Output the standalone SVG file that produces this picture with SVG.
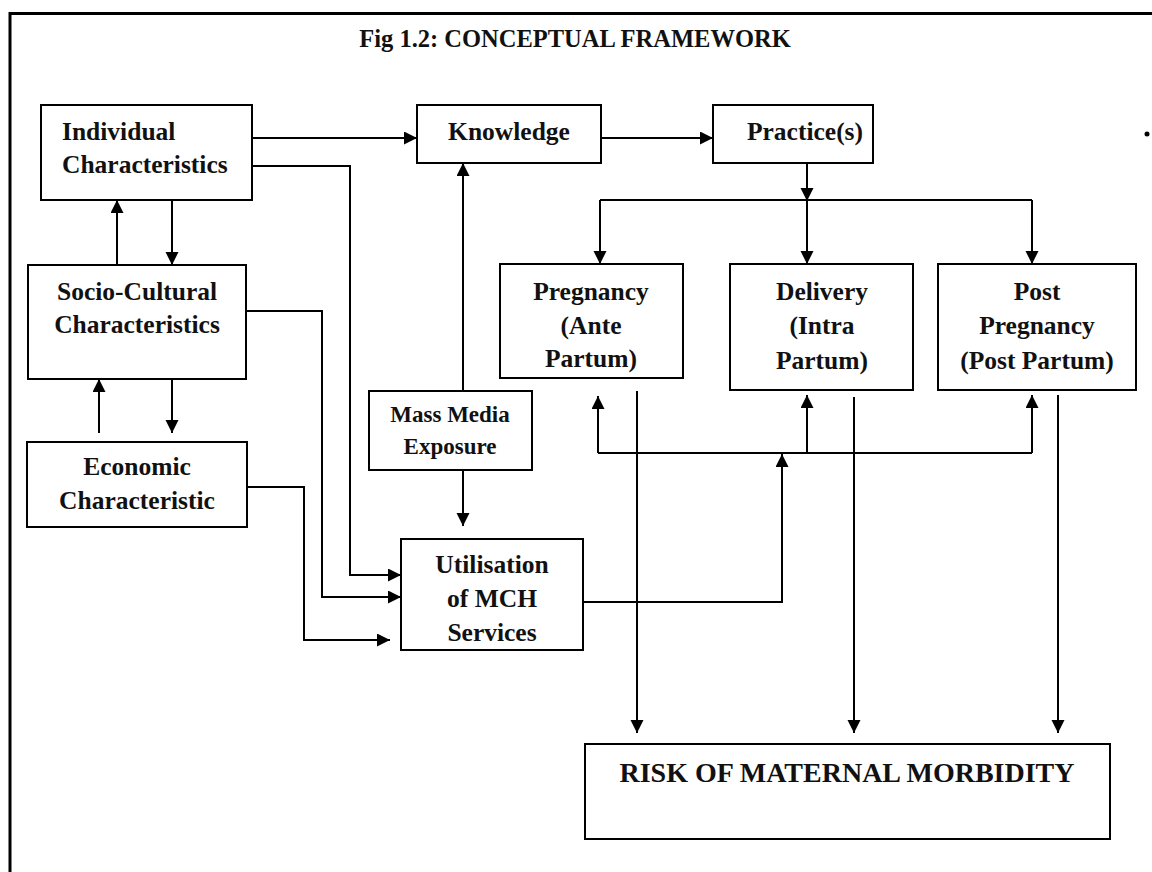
<svg xmlns="http://www.w3.org/2000/svg" width="1152" height="872" viewBox="0 0 1152 872">
  <style>
    .box { fill: #fff; stroke: #000; stroke-width: 2; }
    .line { fill: none; stroke: #000; stroke-width: 2; }
    .arrow { fill: none; stroke: #000; stroke-width: 2; marker-end: url(#head); }
    text { font-family: "Liberation Serif", "Times New Roman", serif; font-weight: bold; fill: #111; }
    .lbl { font-size: 25.5px; text-anchor: middle; }
    .sm { font-size: 23px; text-anchor: middle; }
    .title { font-size: 24.5px; text-anchor: middle; }
    .big { font-size: 28px; text-anchor: middle; }
  </style>
  <defs>
    <marker id="head" markerUnits="userSpaceOnUse" markerWidth="14" markerHeight="14" refX="13" refY="6.5" orient="auto">
      <path d="M0,0 L13,6.5 L0,13 z" fill="#000"/>
    </marker>
  </defs>

  <rect width="1152" height="872" fill="#fff"/>

  <!-- page frame -->
  <path d="M10,872 V13.5 H1152" fill="none" stroke="#000" stroke-width="3"/>
  <circle cx="1147" cy="134" r="2.5" fill="#000"/>

  <text class="title" x="575" y="47">Fig 1.2: CONCEPTUAL FRAMEWORK</text>

  <!-- connectors -->
  <g id="connectors">
    <!-- individual -> knowledge -> practice -->
    <path class="arrow" d="M252,138 H417"/>
    <path class="arrow" d="M602,138 H713"/>
    <!-- individual <-> socio-cultural -->
    <path class="arrow" d="M117,265 V200"/>
    <path class="arrow" d="M172,200 V265"/>
    <!-- socio-cultural <-> economic -->
    <path class="arrow" d="M99,433 V379"/>
    <path class="arrow" d="M172,379 V433"/>
    <!-- characteristics -> utilisation -->
    <path class="arrow" d="M252,166 H350 V575 H401"/>
    <path class="arrow" d="M246,311 H322 V597 H401"/>
    <path class="arrow" d="M247,487 H304 V640 H390"/>
    <!-- mass media -->
    <path class="arrow" d="M463,391 V163"/>
    <path class="arrow" d="M463,470 V526"/>
    <!-- practice -> phases -->
    <path class="arrow" d="M807,163 V201"/>
    <path class="line" d="M600,200 H1032"/>
    <path class="arrow" d="M600,200 V264"/>
    <path class="arrow" d="M807,200 V264"/>
    <path class="arrow" d="M1032,200 V264"/>
    <!-- utilisation -> phases -->
    <path class="arrow" d="M584,602 H782 V454"/>
    <path class="line" d="M598,453 H1032"/>
    <path class="arrow" d="M598,453 V396"/>
    <path class="arrow" d="M807,453 V395"/>
    <path class="arrow" d="M1032,453 V395"/>
    <!-- phases -> risk -->
    <path class="arrow" d="M637,391 V733"/>
    <path class="arrow" d="M854,397 V733"/>
    <path class="arrow" d="M1058,395 V733"/>
  </g>

  <g id="individual">
    <rect class="box" x="41" y="105" width="211" height="95"/>
    <text class="lbl" x="62" y="140" style="text-anchor:start">Individual</text>
    <text class="lbl" x="62" y="173" style="text-anchor:start">Characteristics</text>
  </g>

  <g id="socio-cultural">
    <rect class="box" x="28" y="265" width="218" height="114"/>
    <text class="lbl" x="137" y="300">Socio-Cultural</text>
    <text class="lbl" x="137" y="333">Characteristics</text>
  </g>

  <g id="economic">
    <rect class="box" x="27" y="442" width="220" height="85"/>
    <text class="lbl" x="137" y="475">Economic</text>
    <text class="lbl" x="137" y="509">Characteristic</text>
  </g>

  <g id="knowledge">
    <rect class="box" x="417" y="105" width="184" height="58"/>
    <text class="lbl" x="509" y="140">Knowledge</text>
  </g>

  <g id="practice">
    <rect class="box" x="713" y="105" width="160" height="58"/>
    <text class="lbl" x="805" y="140">Practice(s)</text>
  </g>

  <g id="pregnancy">
    <rect class="box" x="500" y="264" width="183" height="114"/>
    <text class="lbl" x="591" y="300">Pregnancy</text>
    <text class="lbl" x="591" y="334">(Ante</text>
    <text class="lbl" x="591" y="367">Partum)</text>
  </g>

  <g id="delivery">
    <rect class="box" x="730" y="264" width="183" height="126"/>
    <text class="lbl" x="822" y="300">Delivery</text>
    <text class="lbl" x="822" y="334">(Intra</text>
    <text class="lbl" x="822" y="369">Partum)</text>
  </g>

  <g id="post-pregnancy">
    <rect class="box" x="938" y="264" width="198" height="126"/>
    <text class="lbl" x="1037" y="300">Post</text>
    <text class="lbl" x="1037" y="334">Pregnancy</text>
    <text class="lbl" x="1037" y="369">(Post Partum)</text>
  </g>

  <g id="mass-media">
    <rect class="box" x="369" y="391" width="163" height="79"/>
    <text class="sm" x="450" y="422">Mass Media</text>
    <text class="sm" x="450" y="454">Exposure</text>
  </g>

  <g id="utilisation">
    <rect class="box" x="401" y="539" width="182" height="111"/>
    <text class="lbl" x="492" y="573">Utilisation</text>
    <text class="lbl" x="492" y="607">of MCH</text>
    <text class="lbl" x="492" y="641">Services</text>
  </g>

  <g id="risk">
    <rect class="box" x="585" y="744" width="525" height="95"/>
    <text class="big" x="847" y="782">RISK OF MATERNAL MORBIDITY</text>
  </g>
</svg>
